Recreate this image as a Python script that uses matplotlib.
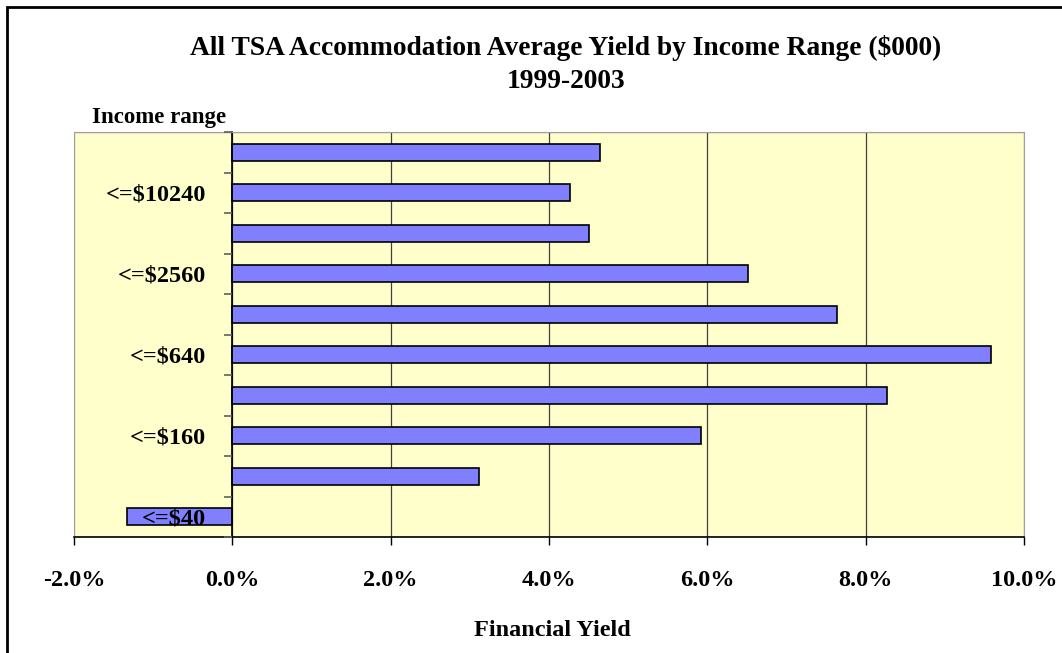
import numpy as np
import matplotlib.pyplot as plt
from matplotlib.patches import Rectangle

categories = ["<=$40", "<=$80", "<=$160", "<=$320", "<=$640",
              "<=$1280", "<=$2560", "<=$5120", "<=$10240", "<=$20480"]
yields = [-1.33, 3.12, 5.92, 8.27, 9.58, 7.64, 6.52, 4.50, 4.27, 4.64]
xticks = [-2, 0, 2, 4, 6, 8, 10]

plt.rcParams['font.family'] = ['Liberation Serif', 'DejaVu Serif']
plt.rcParams['font.weight'] = 'bold'

W, H = 1062, 653
fig = plt.figure(figsize=(W / 100, H / 100), dpi=100)
ax = fig.add_axes([74 / W, 1 - 537 / H, (1024 - 74) / W, (537 - 132) / H])
ax.set_facecolor('#FFFFCC')
ax.set_axisbelow(False)

y = np.arange(len(categories))
ax.barh(y, yields, height=0.42, color='#8080FF', edgecolor='black', linewidth=1.2, zorder=2)

ax.set_xlim(-2, 10)
ax.set_ylim(-0.5, len(categories) - 0.5)
ax.tick_params(axis='x', length=6, width=1, pad=18, color='black', labelsize=17.5)
ax.set_xticks(xticks)
ax.set_xticklabels([f"{v:.1f}%" for v in xticks])
for v in xticks[1:-1]:
    ax.axvline(v, color='#404040', linewidth=0.9, zorder=1)

# category labels every other bar, tick marks between bars
ax.tick_params(axis='y', which='major', length=0, pad=19, labelsize=17.5)
ax.tick_params(axis='y', which='minor', length=6, width=1.2, color='#606060')
ax.set_yticks(np.arange(-0.5, len(categories), 1.0), minor=True)
ax.set_yticks(y[::2])
ax.set_yticklabels(categories[::2])
for lbl in ax.get_xticklabels() + ax.get_yticklabels():
    lbl.set_fontweight('bold')

# y axis drawn at zero like excel
ax.spines['left'].set_position(('data', 0))
ax.spines['left'].set_color('black')
ax.spines['left'].set_linewidth(1.2)
ax.spines['bottom'].set_color('black')
ax.spines['bottom'].set_linewidth(1.2)
for s in ['top', 'right']:
    ax.spines[s].set_color('#A0A0A0')
ax.add_patch(Rectangle((0, 0), 1, 1, transform=ax.transAxes, fill=False,
                       edgecolor='#A0A0A0', linewidth=1, zorder=0.5))

fig.text(566 / W, 1 - 48 / H, "All TSA Accommodation Average Yield by Income Range ($000)",
         ha='center', va='center', fontsize=19.8, fontweight='bold')
fig.text(566 / W, 1 - 81 / H, "1999-2003", ha='center', va='center', fontsize=19.8, fontweight='bold')
fig.text(159 / W, 1 - 117 / H, "Income range", ha='center', va='center', fontsize=16.5, fontweight='bold')
fig.text(552 / W, 1 - 630 / H, "Financial Yield", ha='center', va='center', fontsize=17.5, fontweight='bold')

fig.patches.append(Rectangle((7 / W, -0.1), 1.2, 1 - 7 / H + 0.1, transform=fig.transFigure,
                             fill=False, edgecolor='black', linewidth=2))

fig.savefig("out.png", dpi=100)
